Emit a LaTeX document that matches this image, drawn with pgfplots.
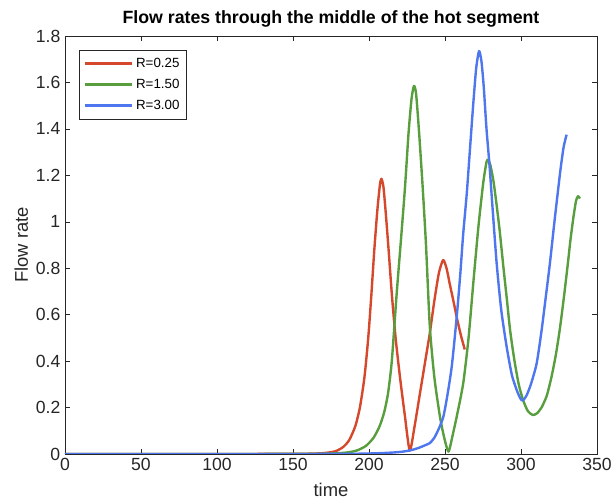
\documentclass[border=0pt]{standalone}
\usepackage{fontspec}
\setmainfont{Liberation Sans}
\usepackage{pgfplots}
\pgfplotsset{compat=1.18}

\definecolor{cred}{RGB}{214,72,44}
\definecolor{cgreen}{RGB}{88,158,62}
\definecolor{cblue}{RGB}{78,118,238}
\definecolor{axgray}{RGB}{38,38,38}

\begin{document}
\begin{tikzpicture}
\begin{axis}[
    scale only axis,
    width=399pt,
    height=313.5pt,
    xmin=0, xmax=350,
    ymin=0, ymax=1.8,
    xtick={0,50,...,350},
    ytick={0,0.2,...,1.8},
    yticklabels={0,0.2,0.4,0.6,0.8,1,1.2,1.4,1.6,1.8},
    tick align=inside,
    major tick length=4pt,
    axis line style={axgray},
    every tick/.style={axgray},
    ticklabel style={font=\fontsize{13.2}{15}\selectfont, text=axgray},
    /pgf/number format/assume math mode=true,
    xlabel={time},
    ylabel={Flow rate},
    label style={font=\fontsize{13.8}{16}\selectfont, text=axgray},
    xlabel style={yshift=-2pt},
    ylabel style={yshift=-1pt},
    title={Flow rates through the middle of the hot segment},
    title style={font=\bfseries\fontsize{13.3}{16}\selectfont, yshift=-3pt},
    legend style={at={(0.026,0.9665)}, anchor=north west, font=\fontsize{10}{12}\selectfont,
        draw=axgray, row sep=3.2pt, inner xsep=3pt, inner ysep=4pt},
    legend cell align=left,
    legend image code/.code={\draw[#1, line width=2.2pt] (0cm,0cm) -- (1.25cm,0cm);},
    every axis plot/.append style={line width=1.8pt, line join=round},
]
\addplot[cred, smooth, tension=0.4] coordinates {
(0,0) (100,0) (150,0.0005) (165,0.002) (172,0.005) (178,0.012) (183,0.03) (187,0.06)
(191,0.12) (194,0.2) (197,0.33) (199.5,0.5) (201.5,0.68) (203.5,0.88) (205.5,1.05)
(207.2,1.16) (208.2,1.185) (209.5,1.15) (211,1.04) (213,0.87) (215,0.69) (217.5,0.5)
(220.4,0.33) (223.5,0.17) (226.8,0.015) (230,0.12) (233.5,0.26) (237,0.4) (240,0.52)
(243,0.66) (246,0.78) (248.8,0.835) (251,0.8) (253.2,0.73) (255.5,0.66) (258,0.58)
(260.5,0.51) (263,0.45)};
\addplot[cgreen, smooth, tension=0.4] coordinates {
(0,0) (100,0) (160,0.0005) (175,0.002) (185,0.006) (192,0.015) (198,0.035) (203,0.07)
(207,0.12) (210,0.18) (212.5,0.26) (215,0.4) (218.2,0.69) (221,0.92) (223.7,1.15)
(226,1.38) (228,1.53) (229.6,1.585) (231,1.55) (233,1.38) (235.3,1.15) (237.5,0.9)
(240,0.55) (243,0.33) (246.7,0.16) (249.5,0.07) (252.3,0.01) (255,0.08) (258,0.17)
(262,0.305) (265.5,0.5) (268.6,0.735) (272,0.98) (275.2,1.17) (277.4,1.26) (278.5,1.265)
(280,1.24) (282,1.17) (284,1.07) (286,0.96) (288.5,0.8) (290.8,0.66) (292.8,0.535)
(295.5,0.41) (298.5,0.3) (301.5,0.23) (304.5,0.185) (307.7,0.168) (310.5,0.175) (313.5,0.2)
(316.9,0.25) (320,0.33) (323,0.43) (325.7,0.545) (328.5,0.69) (331,0.83) (332.5,0.92)
(334.5,1.02) (336.2,1.09) (337.5,1.11) (338.8,1.1)};
\addplot[cblue, smooth, tension=0.4] coordinates {
(0,0) (150,0) (190,0.001) (205,0.003) (215,0.006) (222,0.01) (228,0.017) (233,0.027)
(237,0.038) (240,0.047) (243,0.07) (246,0.11) (248.9,0.16) (251.5,0.25) (254.5,0.38)
(257.7,0.59) (260,0.77) (262,0.95) (264.3,1.12) (266.4,1.31) (268.5,1.5) (270.5,1.66)
(272.4,1.735) (274,1.69) (275.5,1.58) (277.3,1.4) (279.2,1.25) (281.5,1.04) (284,0.82)
(287,0.62) (290.6,0.46) (294,0.34) (297.2,0.275) (299.5,0.24) (301.1,0.23) (303.5,0.25)
(306.5,0.3) (310.3,0.39) (313.5,0.53) (316,0.66) (319,0.82) (322,1.0) (325.7,1.21)
(328,1.32) (330,1.375)};
\legend{R=0.25, R=1.50, R=3.00}
\end{axis}
\pgfresetboundingbox
\path[use as bounding box] ([xshift=-48.75pt,yshift=-35.25pt]current axis.south west)
    rectangle ([xshift=10.5pt,yshift=27pt]current axis.north east);
\end{tikzpicture}
\end{document}
